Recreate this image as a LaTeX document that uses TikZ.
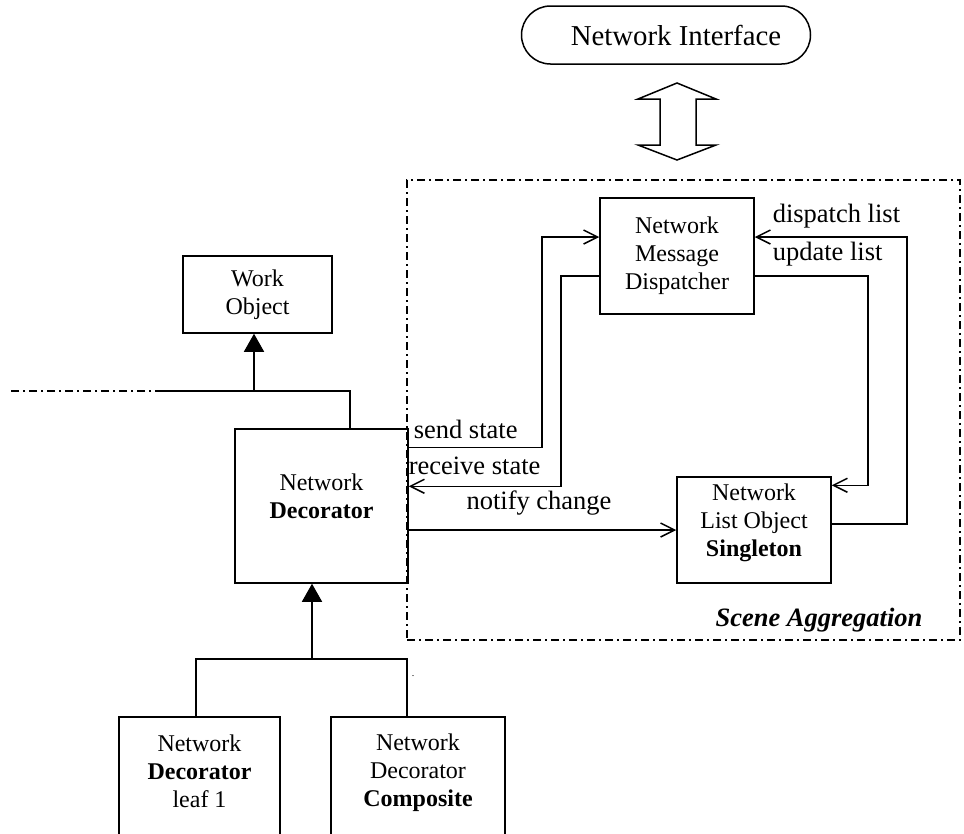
\documentclass[tikz,border=0pt]{standalone}
\usepackage{fontspec}
\setmainfont{Liberation Serif}
\usetikzlibrary{arrows.meta,shapes.misc}
\begin{document}
\begin{tikzpicture}[x=1pt,y=-1pt,line width=1.5pt,
	box/.style={draw,align=center,inner sep=0pt,font=\fontsize{24}{28}\selectfont},
	lbl/.style={inner sep=0pt,font=\fontsize{26.5}{30}\selectfont},
	msg/.style={-{Straight Barb[length=14pt,width=14pt]}},
	inherit/.style={-{Triangle[length=18pt,width=20pt]}},
	dashdot/.style={line width=2pt,dash pattern=on 8pt off 4pt on 2pt off 4pt}]
	\useasboundingbox (0,0) rectangle (964,833);
	% scene aggregation
	\node[draw,dashdot,minimum width=553pt,minimum height=460pt] (agg) at (683.5,410) {};
	\node[lbl,font=\fontsize{26.5}{30}\selectfont\bfseries\itshape] (lagg) at (819,620) {Scene Aggregation};
	% boxes
	\node[rounded rectangle,draw,minimum width=289pt,minimum height=58pt,inner sep=0pt,font=\fontsize{28.8}{32}\selectfont] (ni) at (666,35) {\hspace*{20pt}Network Interface};
	\node[box,minimum width=149pt,minimum height=77pt] (wo) at (257.5,294.5) {Work\\Object};
	\node[box,minimum width=173pt,minimum height=154pt,text depth=20pt] (dec) at (321.5,506) {Network\\\textbf{Decorator}};
	\node[box,minimum width=154pt,minimum height=116pt] (nmd) at (677,256) {Network\\Message\\Dispatcher};
	\node[box,minimum width=154pt,minimum height=106pt,text depth=19pt] (nlo) at (754,530) {Network\\List Object\\\textbf{Singleton}};
	\node[box,minimum width=161pt,minimum height=120pt,text depth=12pt] (leaf) at (199.5,777) {Network\\\textbf{Decorator}\\leaf 1};
	\node[box,minimum width=174pt,minimum height=120pt,text depth=13pt] (comp) at (418,777) {Network\\Decorator\\\textbf{Composite}};
	\node[inner sep=0pt,font=\fontsize{10}{12}\selectfont] (dot) at (413,676) {.};
	% link to the network
	\draw (677,83) -- (716,99) -- (696,99) -- (696,145) -- (716,145) -- (677,160) -- (638,145) -- (660,145) -- (660,99) -- (638,99) -- cycle;
	% inheritance
	\coordinate (up) at (350,391);
	\coordinate (upend) at (163,391);
	\coordinate (upfar) at (9,391);
	\draw (dec.north -| up) -- (up) -- (upend);
	\draw[dashdot,line width=1.5pt] (upend) -- (upfar);
	\draw[inherit] ([xshift=-3.5pt]wo.south |- up) -- ([xshift=-3.5pt]wo.south);
	\coordinate (down) at (312,659);
	\coordinate (dl) at (196,659);
	\coordinate (dr) at (407,659);
	\draw[inherit] (down) -- (down |- dec.south);
	\draw (leaf.north -| dl) -- (dl) -- (dr) -- (comp.north -| dr);
	% messages
	\coordinate (sendup) at (542,237);
	\coordinate (recvup) at (561,276);
	\coordinate (updn) at (868,276);
	\coordinate (disp) at (907,237);
	\draw[msg] ([yshift=-19pt]dec.north east) -| (sendup) -- (sendup -| nmd.west);
	\draw[msg] (recvup -| nmd.west) -- (recvup) |- ([yshift=-58pt]dec.north east);
	\draw[msg] (dec.east |- nlo.west) -- (nlo.west);
	\draw[msg] (updn -| nmd.east) -- (updn) |- ([yshift=-9pt]nlo.north east);
	\draw[msg] ([yshift=6pt]nlo.east) -| (disp) -- (disp -| nmd.east);
	\node[lbl,anchor=west] (lsend) at (413,429) {send state};
	\node[lbl,anchor=west] (lrecv) at (408,466) {receive state};
	\node[lbl] (lnotify) at (539,503) {notify change};
	\node[lbl,anchor=west] (ldisp) at (772,216) {dispatch list};
	\node[lbl,anchor=west] (lupd) at (772,254) {update list};
\end{tikzpicture}
\end{document}
